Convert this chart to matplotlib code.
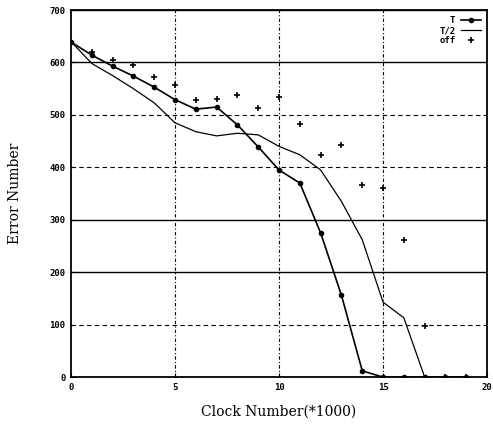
import matplotlib.pyplot as plt

# data
clock = [0, 1, 2, 3, 4, 5, 6, 7, 8, 9, 10, 11, 12, 13, 14, 15, 16, 17, 18, 19]
err_T = [639, 614, 593, 574, 553, 529, 511, 515, 481, 439, 395, 370, 275, 156, 12, 0, 0, 0, 0, 0]
err_T2 = [640, 598, 575, 550, 523, 485, 468, 460, 465, 462, 440, 424, 395, 335, 262, 143, 113, 0, 0, 0]
clock_off = [1, 2, 3, 4, 5, 6, 7, 8, 9, 10, 11, 12, 13, 14, 15, 16, 17, 18, 19]
err_off = [620, 605, 596, 573, 557, 529, 531, 538, 513, 535, 483, 424, 443, 366, 360, 261, 97, 0, 0]

yticks = [0, 100, 200, 300, 400, 500, 600, 700]
xticks = [0, 5, 10, 15, 20]

fig = plt.figure(figsize=(4.93, 4.36), dpi=100)
ax = fig.add_axes([0.144, 0.135, 0.844, 0.842])

# grid, mixed solid / dashed like the scan
for y in [200, 300, 600, 700]:
    ax.axhline(y, color="black", linewidth=1.0, zorder=1)
for y in [100, 400, 500]:
    ax.axhline(y, color="black", linewidth=0.8, linestyle=(0, (4, 3)), zorder=1)
for x in [5, 10, 15]:
    ax.axvline(x, color="black", linewidth=0.8, linestyle=(0, (3, 2, 1, 2)), zorder=1)

ax.plot(clock, err_T, color="black", linewidth=1.2, marker="o", markersize=3, label="T", zorder=3)
ax.plot(clock, err_T2, color="black", linewidth=0.9, label="T/2", zorder=3)
ax.plot(clock_off, err_off, color="black", linestyle="none", marker="+", markersize=5,
        markeredgewidth=1.2, label="off", zorder=3)

ax.set_xlim(0, 20)
ax.set_ylim(0, 700)
ax.set_xticks(xticks)
ax.set_yticks(yticks)
ax.tick_params(direction="in", length=3, labelsize=6.5, pad=4)
for lab in ax.get_xticklabels() + ax.get_yticklabels():
    lab.set_fontweight("bold")
    lab.set_family("DejaVu Sans Mono")
for s in ax.spines.values():
    s.set_linewidth(1.3)

ax.set_xlabel("Clock Number(*1000)", family="DejaVu Serif", fontsize=10, labelpad=9)
ax.set_ylabel("Error Number", family="DejaVu Serif", fontsize=10, labelpad=20)

leg = ax.legend(loc="upper right", markerfirst=False, frameon=False,
                handlelength=2.2, handletextpad=0.6, labelspacing=0.1,
                borderaxespad=0.3, prop={"family": "DejaVu Sans Mono", "weight": "bold", "size": 6.5})

plt.savefig("out.png", dpi=100)
